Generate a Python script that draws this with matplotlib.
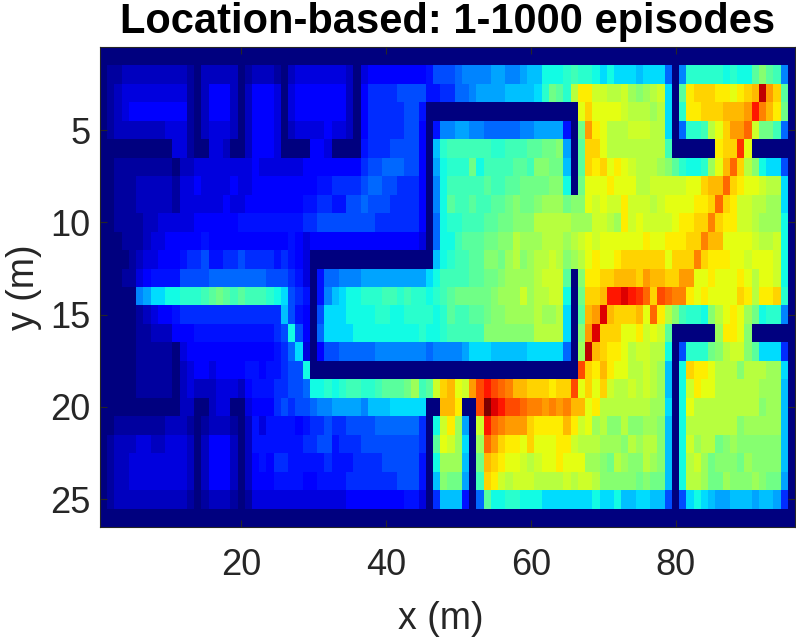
import numpy as np
from matplotlib import pyplot as plt

plt.rcParams['font.family'] = ['Liberation Sans', 'DejaVu Sans']

# visit density per cell, 36 levels written in base 36 (0 = wall, z = peak)
# each row is one y, split in blocks of 12 x cells
density_rows = [
    "000000000000 000000000000 000000000000 000000000000 000000000000 000000000000 000000000000 000000000000",
    "011222222222 102222201222 102333333320 344444444577 789999aa99ab bdddefeedcdc ccbccc809eee eededdgigf90",
    "012333333333 102444202444 303444444420 466667777556 6889aaaabbbb cehgeknnllkk ljijklc0gnoo onnmnopxqog0",
    "012344444444 102444202444 303444444420 466666775000 000000000000 000000mommmm lkkkjkc0enno oopppqvrpnh0",
    "012222222333 102333202444 302333343320 466666774059 9aa998888899 aaaa50hqnmkk klllkkc08eef kmoqqslhhf80",
    "000000000033 100332002444 300004430000 5666777740be ffffffeefffg ghhia0goomkk kkkkkkf00000 0nooum000000",
    "001111111102 233333333433 333344444444 6778887740ad eeehdffffggf iihhb0gonomn mlkkkjigedde jmpsokidcc70",
    "001112222213 343333433444 444444556666 78877666409d fffffgffgghh hhiid0hmmmnm mmkklllllmmo ppsonmmlkkc0",
    "001112222213 333334334444 444455665577 87776666409d gffgffgghihh ijjjhiimlmll nlllklmmmmnn osonllkkjjc0",
    "001111223333 344444455555 555566777777 77666666408d eefffgghhiii kkkkkjjjllkj nlmllllmnnoo ronnllkjjjd0",
    "000111233444 445444444444 445434444444 44444444308d dfggghhiikjj jkkkjklmlmmm mmmnmmnnnoor ppmmmmlkkld0",
    "000012334445 667556676666 565430000000 0000000000bd effggiihjkij kklkijkmnmmn oooooomoooro nnnmmlmmmld0",
    "000113455557 777888888887 776530588999 aaaaaaaaacdf fffgghhijjjj klllg0innoop ppoqppooqqmm nmmmnmkmmld0",
    "000009accdde eefghgfgfffe dc765059bcdd eeeffefeedef ghhhhhijjjlj kklld0hoopvv wvusotsrrnmn mmmmonknnoe0",
    "000001234456 666666666666 6b75407cccdd ddeeddeeeede gffgghiijjjj kjjkc0gpqwpo oopmsnkifeed ikmnmjhdee90",
    "000001122244 455555555555 67d7408ccccd ddddddddedde fffffiiiiiii kkkkc0iqwooo mmnlmlg00000 0jnnmi000000",
    "000001111103 444444444444 568c30477888 889999999899 99acccbbbbbc cccc80jxponn mkllkkd07eee hiklligccc60",
    "000001111102 344344445545 5677d0000000 000000000000 000000000000 000000tonpnm mkklkjb0donn mkkkikkkjjc0",
    "000001111102 322233324555 66778ddedeff eefggghjfglo pmlqtvtsrppo oonootmomolk klklkjb0dlnm mkkkkkkjjjb0",
    "000000000002 200233003444 67677899aaaa 9bbbccccc00p pn00tzwvttsr rqrqrppmnkkk kkkkjjc0dmkk kkkkkkkijjb0",
    "001111111222 101222102535 555456676677 7788888860dl nja0lvsrqqqo nnnnpnlmjkii kiijjib0dkkk kkkkijjjjjb0",
    "012223322333 202444202555 555566775666 7777777760gm ljc0jsqonnmo mmmnnlkkkjjj ikjkkib0dljk khijiiiiiib0",
    "012233333333 202444202454 665555565556 6667777750dj jjb0hponmmlk lmmnmmmjjihk jiikjib0dklj hiiihjiiiib0",
    "012233333333 202444202444 555544555566 6666677750bi hha0fonlklll kkkklkllkiii iihihhb0dkkj hhjiiijihha0",
    "012222222222 101222101333 333333333344 44444455306b bb508gddeedd dcccccccdccd bbccbb707cdc baabbbabba60",
    "000000000000 000000000000 000000000000 000000000000 000000000000 000000000000 000000000000 000000000000",
]
x_ticks = [20, 40, 60, 80]
y_ticks = [5, 10, 15, 20, 25]


def decode(rows):
    grid = []
    for row in rows:
        cells = row.replace(" ", "")
        grid.append([int(c, 36) / 35 for c in cells])
    return np.array(grid)


density = decode(density_rows)

fig = plt.figure(figsize=(7.96, 6.42), dpi=100)
ax = fig.add_axes([100 / 796, 1 - 527 / 642, 695 / 796, 480 / 642])
ax.imshow(density, cmap='jet', vmin=0, vmax=1, aspect='auto',
          interpolation='nearest', extent=[0.5, 96.5, 26.5, 0.5])

ax.set_xticks(x_ticks)
ax.set_yticks(y_ticks)
ax.tick_params(direction='in', length=5, width=0.8, top=True, right=True,
               color='#262626', labelcolor='#262626', labelsize=26, pad=7)
ax.tick_params(axis='x', pad=15)
for s in ax.spines.values():
    s.set_color('#262626')
    s.set_linewidth(0.8)

ax.set_xlabel("x (m)", fontsize=27, color='#262626', labelpad=13)
ax.xaxis.label.set_x(0.49)
ax.set_ylabel("y (m)", fontsize=27, color='#262626', labelpad=6)
ax.set_title("Location-based: 1-1000 episodes", fontsize=30, fontweight='bold',
             color='black', pad=10)

plt.savefig('out.png', dpi=100)
